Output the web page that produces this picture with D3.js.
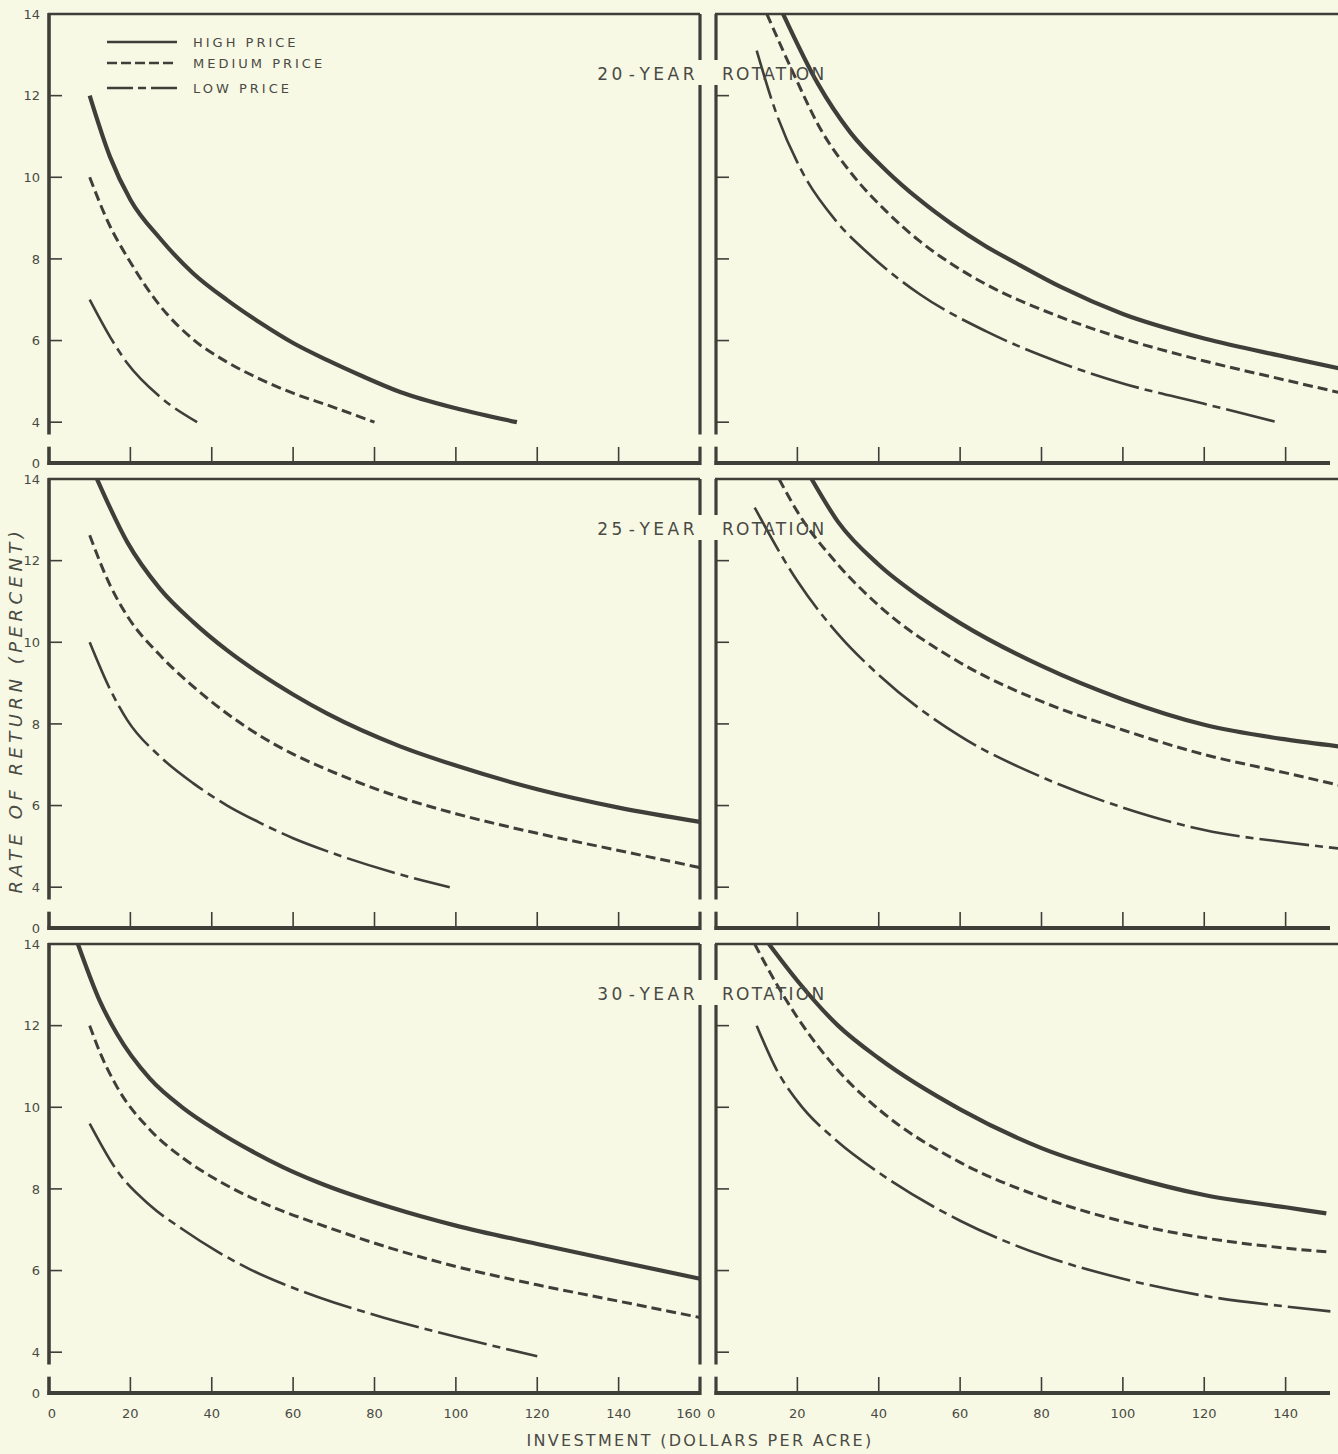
<!DOCTYPE html>
<html>
<head>
<meta charset="utf-8">
<script src="https://cdn.jsdelivr.net/npm/d3@7"></script>
<style>
  html, body { margin: 0; padding: 0; background: #f7f9e5; }
  svg { display: block; }
  text { font-family: "DejaVu Sans", sans-serif; fill: #4a4a44; }
</style>
</head>
<body>
<svg id="chart" width="1338" height="1454"></svg>
<script>
// ---------------- DATA ----------------
const xTickValues = [0, 20, 40, 60, 80, 100, 120, 140, 160];
const rightXTickValues = [0, 20, 40, 60, 80, 100, 120, 140];
const yTickValues = [0, 4, 6, 8, 10, 12, 14];
const rotationYears = ["20", "25", "30"];
const priceLabels = ["HIGH PRICE", "MEDIUM PRICE", "LOW PRICE"];
const xAxisTitle = "INVESTMENT (DOLLARS PER ACRE)";
const yAxisTitle = "RATE OF RETURN (PERCENT)";

// 20-year rotation, left panel  [investment, rate]
const r20LeftHigh = [[10,12],[15,10.5],[20,9.45],[27.3,8.5],[35.4,7.65],[43.8,6.99],[52,6.43],[60,5.94],[68.4,5.52],[76.5,5.15],[86.3,4.74],[100,4.34],[115,4.0]];
const r20LeftMedium = [[10,10],[15,8.8],[19.2,8.05],[27.3,6.85],[35.4,6.03],[43.8,5.47],[52,5.05],[60,4.71],[68.4,4.42],[80,4.0]];
const r20LeftLow = [[10,7],[15,6.09],[19.2,5.45],[27.3,4.62],[36.4,4.0]];
// 20-year rotation, right panel
const r20RightHigh = [[16.5,14],[25,12.3],[33,11.1],[42,10.15],[50,9.45],[58,8.85],[66,8.33],[75,7.83],[85,7.3],[100,6.65],[120,6.05],[140,5.6],[153,5.32]];
const r20RightMedium = [[12.5,14],[19.7,12.4],[25.3,11.25],[33.4,10.08],[41.8,9.17],[50,8.44],[58,7.87],[66.3,7.38],[83.5,6.62],[100,6.05],[120,5.5],[140,5.03],[153,4.73]];
const r20RightLow = [[10,13.1],[14.7,11.6],[21.1,10.15],[29.5,8.93],[37.6,8.12],[50,7.14],[66.3,6.23],[84.3,5.47],[100,4.95],[120,4.45],[138,4.0]];
// 25-year rotation, left panel
const r25LeftHigh = [[11.8,14],[19.2,12.46],[27.3,11.31],[35.4,10.5],[43.8,9.8],[52,9.22],[60,8.72],[68.4,8.25],[86.3,7.45],[100,6.98],[120,6.4],[140,5.95],[160,5.6]];
const r25LeftMedium = [[10,12.62],[15,11.4],[19.2,10.65],[27.3,9.68],[35.4,8.92],[43.8,8.25],[52,7.7],[60,7.26],[68.4,6.88],[86.3,6.2],[100,5.8],[120,5.32],[140,4.9],[160,4.48]];
const r25LeftLow = [[10,10],[15,8.85],[19.2,8.1],[27.3,7.2],[35.4,6.55],[43.8,6.0],[52,5.57],[60,5.2],[68.4,4.88],[84.6,4.36],[98.5,4.0]];
// 25-year rotation, right panel
const r25RightHigh = [[23.5,14],[30,12.95],[40,11.9],[50,11.12],[60,10.47],[80,9.42],[100,8.6],[120,7.98],[140,7.62],[153,7.45]];
const r25RightMedium = [[15.5,14],[20,13.2],[30,11.9],[40,10.9],[60,9.5],[80,8.55],[100,7.85],[120,7.25],[140,6.8],[153,6.5]];
const r25RightLow = [[9.5,13.3],[20,11.5],[30,10.2],[40,9.2],[60,7.7],[80,6.7],[100,5.95],[120,5.4],[140,5.1],[153,4.95]];
// 30-year rotation, left panel
const r30LeftHigh = [[7.1,14],[12.5,12.6],[16.7,11.8],[24.8,10.7],[33,9.98],[41.3,9.42],[49.4,8.95],[57.6,8.53],[65.9,8.17],[83.9,7.55],[100,7.1],[120,6.65],[140,6.22],[160,5.8]];
const r30LeftMedium = [[10,12],[12.5,11.35],[16.7,10.5],[24.8,9.45],[33,8.75],[41.3,8.22],[49.4,7.8],[57.6,7.45],[65.9,7.15],[83.9,6.55],[100,6.1],[120,5.65],[140,5.25],[160,4.85]];
const r30LeftLow = [[10,9.6],[16.7,8.45],[24.8,7.6],[33,7.0],[41.3,6.47],[49.4,6.03],[57.6,5.67],[65.9,5.36],[82.1,4.85],[100,4.38],[120,3.9]];
// 30-year rotation, right panel
const r30RightHigh = [[13,14],[20,13.1],[30,12.0],[40,11.2],[60,9.95],[80,9.0],[100,8.35],[120,7.85],[140,7.55],[150,7.4]];
const r30RightMedium = [[9.5,14],[15,13.0],[20,12.2],[30,10.9],[40,9.95],[60,8.65],[80,7.8],[100,7.2],[120,6.8],[140,6.55],[151,6.45]];
const r30RightLow = [[10,12],[15,10.9],[20,10.15],[30,9.15],[40,8.4],[60,7.22],[80,6.38],[100,5.8],[120,5.38],[140,5.12],[151,5.0]];

// ---------------- LAYOUT ----------------
const ink = "#3f3f3a";
const svg = d3.select("#chart");
svg.append("rect").attr("width", 1338).attr("height", 1454).attr("fill", "#f7f9e5");

const rowTops = [14, 479, 944];
const rowHeight = 449;           // from "14" down to the axis (value 0 sits where 3 would be)
const titleBase = [66, 56, 56];  // baseline offset of rotation title from row top
const cols = [{x0: 49, x1: 700}, {x0: 716, x1: 1367}];

const panels = [
  [[r20LeftHigh, r20LeftMedium, r20LeftLow], [r20RightHigh, r20RightMedium, r20RightLow]],
  [[r25LeftHigh, r25LeftMedium, r25LeftLow], [r25RightHigh, r25RightMedium, r25RightLow]],
  [[r30LeftHigh, r30LeftMedium, r30LeftLow], [r30RightHigh, r30RightMedium, r30RightLow]]
];

const seriesStyle = [
  {w: 4.2, dash: null},
  {w: 3.0, dash: "10,5"},
  {w: 2.6, dash: "50,6,8,6"}
];

function line(g, x1, y1, x2, y2, w) {
  g.append("line").attr("x1", x1).attr("y1", y1).attr("x2", x2).attr("y2", y2)
    .attr("stroke", ink).attr("stroke-width", w);
}

rowTops.forEach((top, r) => {
  const y = d3.scaleLinear().domain([3, 14]).range([top + rowHeight, top]);
  const yPos = v => y(v === 0 ? 3 : v);
  const yAxisY = yPos(0);
  const breakTop = y(3.7), breakBot = y(3.4);
  const tb = top + titleBase[r];
  const gapTop = tb - 20, gapBot = tb + 5;

  cols.forEach((c, ci) => {
    const x = d3.scaleLinear().domain([0, 160]).range([c.x0, c.x1]);
    const g = svg.append("g");
    const xEnd = ci === 0 ? c.x1 : 1338;
    const axisEnd = ci === 0 ? c.x1 : 1330;

    line(g, c.x0 - 1, top, xEnd, top, 2.6);
    line(g, c.x0 - 1.5, yAxisY, axisEnd, yAxisY, 4);

    if (ci === 0) {
      line(g, c.x0, top - 1, c.x0, breakTop, 3.6);
      line(g, c.x0, breakBot, c.x0, yAxisY + 2, 3.6);
      line(g, c.x1, top, c.x1, gapTop, 3.2);
      line(g, c.x1, gapBot, c.x1, breakTop, 3.2);
      line(g, c.x1, breakBot, c.x1, yAxisY + 2, 3.2);
    } else {
      line(g, c.x0, top, c.x0, gapTop, 3.2);
      line(g, c.x0, gapBot, c.x0, breakTop, 3.2);
      line(g, c.x0, breakBot, c.x0, yAxisY + 2, 3.2);
    }

    g.selectAll(".yt").data(yTickValues.filter(v => v > 0 && v < 14)).join("line")
      .attr("x1", c.x0).attr("x2", c.x0 + 13)
      .attr("y1", d => yPos(d)).attr("y2", d => yPos(d))
      .attr("stroke", ink).attr("stroke-width", 1.6);

    const xt = (ci === 0 ? xTickValues : rightXTickValues).filter(v => v > 0 && v < 160);
    g.selectAll(".xt").data(xt).join("line")
      .attr("x1", d => x(d)).attr("x2", d => x(d))
      .attr("y1", yAxisY).attr("y2", yAxisY - 16)
      .attr("stroke", ink).attr("stroke-width", 1.6);

    if (ci === 0) {
      g.selectAll(".yl").data(yTickValues).join("text")
        .attr("x", c.x0 - 9).attr("y", d => yPos(d)).attr("dy", "0.36em")
        .attr("text-anchor", "end").attr("font-size", 13)
        .text(d => d);
    }

    if (r === 2) {
      const labs = ci === 0 ? xTickValues : rightXTickValues;
      g.selectAll(".xl").data(labs).join("text")
        .attr("x", d => {
          if (ci === 0 && d === 0) return x(d) + 3;
          if (ci === 0 && d === 160) return x(d) + 1;
          if (ci === 1 && d === 0) return x(d) - 9;
          return x(d);
        })
        .attr("y", yAxisY + 25)
        .attr("text-anchor", d => (ci === 0 && d === 160) ? "end" : (ci === 1 && d === 0 ? "start" : "middle"))
        .attr("font-size", 13)
        .text(d => d);
    }

    const lineGen = d3.line().x(d => x(d[0])).y(d => y(d[1])).curve(d3.curveMonotoneX);
    panels[r][ci].forEach((s, si) => {
      const st = seriesStyle[si];
      g.append("path").attr("d", lineGen(s)).attr("fill", "none")
        .attr("stroke", ink).attr("stroke-width", st.w)
        .attr("stroke-dasharray", st.dash)
        .attr("stroke-linecap", "butt");
    });
  });

  // rotation title, split by the panel borders
  const t1 = svg.append("text").attr("x", 698).attr("y", tb).attr("text-anchor", "end")
    .attr("font-size", 17).attr("letter-spacing", 3.5);
  t1.append("tspan").text(rotationYears[r]);
  t1.append("tspan").attr("dx", 3).text("-");
  t1.append("tspan").attr("dx", 3).text("YEAR");
  svg.append("text").attr("x", 722).attr("y", tb).attr("text-anchor", "start")
    .attr("font-size", 17).attr("letter-spacing", 2.3).text("ROTATION");
});

// legend
const legendYs = [42, 63, 88];
const legendDash = [null, "10,4", "26,5,8,5"];
const lg = svg.append("g");
priceLabels.forEach((p, i) => {
  lg.append("line").attr("x1", 107).attr("x2", 177).attr("y1", legendYs[i]).attr("y2", legendYs[i])
    .attr("stroke", ink).attr("stroke-width", 2.4).attr("stroke-dasharray", legendDash[i]);
  lg.append("text").attr("x", 193).attr("y", legendYs[i] + 5).attr("font-size", 13)
    .attr("letter-spacing", 3).text(p);
});

// axis titles
svg.append("text").attr("x", 700).attr("y", 1446).attr("text-anchor", "middle")
  .attr("font-size", 16).attr("letter-spacing", 2.3).text(xAxisTitle);
svg.append("text").attr("transform", "translate(22,710) rotate(-90)").attr("text-anchor", "middle")
  .attr("font-size", 18).attr("font-style", "italic").attr("letter-spacing", 4.5).text(yAxisTitle);
</script>
</body>
</html>
